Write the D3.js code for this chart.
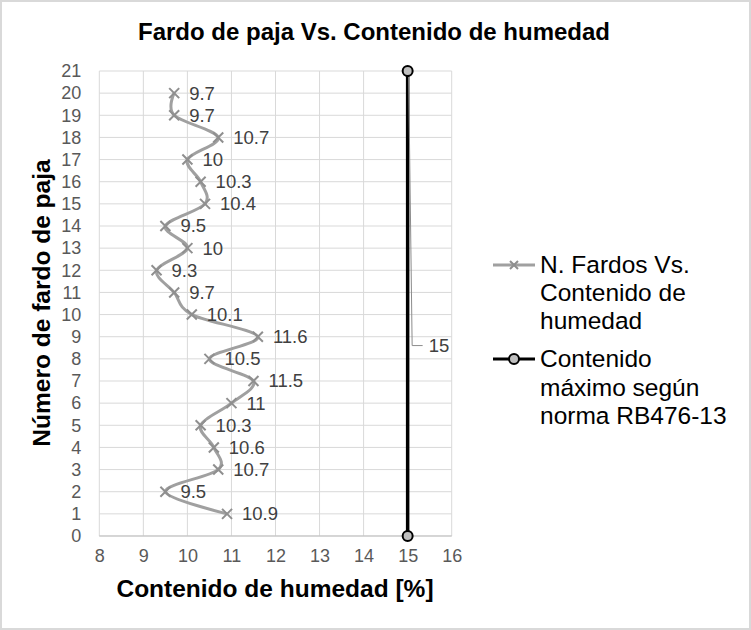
<!DOCTYPE html>
<html><head><meta charset="utf-8">
<script src="https://cdn.jsdelivr.net/npm/d3@7"></script>
<style>
html,body{margin:0;padding:0;background:#fff;}
svg{display:block;font-family:"Liberation Sans",Arial,sans-serif;}
</style></head>
<body>
<svg id="c" width="751" height="630"></svg>
<script>
const fardos = [1,2,3,4,5,6,7,8,9,10,11,12,13,14,15,16,17,18,19,20];
const humedad = [10.9,9.5,10.7,10.6,10.3,11,11.5,10.5,11.6,10.1,9.7,9.3,10,9.5,10.4,10.3,10,10.7,9.7,9.7];
const limiteY = [0,21];
const limiteX = [15,15];
const xTicks = [8,9,10,11,12,13,14,15,16];
const yTicks = d3.range(0,22);
const title = "Fardo de paja Vs. Contenido de humedad";
const xTitle = "Contenido de humedad [%]";
const yTitle = "Número de fardo de paja";
const legend1 = ["N. Fardos Vs.","Contenido de","humedad"];
const legend2 = ["Contenido","máximo según","norma RB476-13"];

const svg = d3.select("#c");
const W=751,H=630;
svg.append("rect").attr("x",1).attr("y",1).attr("width",W-2).attr("height",H-2)
  .attr("fill","#fff").attr("stroke","#d9d9d9").attr("stroke-width",2);

const x = d3.scaleLinear().domain([8,16]).range([99.3,451.7]);
const y = d3.scaleLinear().domain([0,21]).range([536,71]);

// gridlines
const g = svg.append("g");
g.selectAll(".vg").data(xTicks).join("line")
  .attr("x1",d=>x(d)).attr("x2",d=>x(d)).attr("y1",y(0)).attr("y2",y(21))
  .attr("stroke","#d9d9d9").attr("stroke-width",1);
g.selectAll(".hg").data(yTicks).join("line")
  .attr("x1",x(8)).attr("x2",x(16)).attr("y1",d=>y(d)).attr("y2",d=>y(d))
  .attr("stroke","#d9d9d9").attr("stroke-width",1);
g.append("line").attr("x1",x(8)).attr("x2",x(16)).attr("y1",y(0)).attr("y2",y(0))
  .attr("stroke","#bfbfbf").attr("stroke-width",1);

const xAxis = svg.append("g").attr("transform",`translate(0,${y(0)})`)
  .call(d3.axisBottom(x).tickValues(xTicks).tickSize(0).tickPadding(20).tickFormat(d3.format("d")));
xAxis.select(".domain").remove();
xAxis.selectAll("text").attr("font-size",18).attr("fill","#595959")
  .attr("font-family","'Liberation Sans',Arial,sans-serif").attr("dy","0.35em");

const yAxis = svg.append("g").attr("transform",`translate(${x(8)},0)`)
  .call(d3.axisLeft(y).tickValues(yTicks).tickSize(0).tickPadding(18).tickFormat(d3.format("d")));
yAxis.select(".domain").remove();
yAxis.selectAll("text").attr("font-size",18).attr("fill","#595959")
  .attr("font-family","'Liberation Sans',Arial,sans-serif");

// series 1
const pts = fardos.map((f,i)=>({x:humedad[i],y:f}));
const line = d3.line().x(d=>x(d.x)).y(d=>y(d.y)).curve(d3.curveCardinal.tension(0));
svg.append("path").datum(pts).attr("d",line).attr("fill","none")
  .attr("stroke","#a0a0a0").attr("stroke-width",3).attr("stroke-linejoin","round");
const cross = (sel,s)=>sel.append("path")
  .attr("d",`M${-s},${-s}L${s},${s}M${-s},${s}L${s},${-s}`)
  .attr("stroke","#8f8f8f").attr("stroke-width",2).attr("fill","none");
pts.forEach(p=>{
  const gg = svg.append("g").attr("transform",`translate(${x(p.x)},${y(p.y)})`);
  cross(gg,5);
});
svg.selectAll(".dl").data(pts).join("text")
  .attr("x",d=>x(d.x)+15).attr("y",d=>y(d.y)).attr("dy","0.35em")
  .attr("font-size",18.5).attr("fill","#404040")
  .text(d=>d3.format("")(d.x));

// series 2
const lim = limiteY.map((v,i)=>({x:limiteX[i],y:v}));
svg.append("path").datum(lim).attr("d",d3.line().x(d=>x(d.x)).y(d=>y(d.y)))
  .attr("stroke","#000").attr("stroke-width",3.5).attr("fill","none");
const lx = x(15), lyTop = y(21)+6, lyBot = y(8.6);
svg.append("path").attr("d",`M${lx+1},${lyTop}L${lx+4.5},${lyBot}L${lx+15},${lyBot}`)
  .attr("stroke","#8c8c8c").attr("stroke-width",1).attr("fill","none");
svg.append("text").attr("x",lx+21).attr("y",lyBot).attr("dy","0.35em")
  .attr("font-size",18.5).attr("fill","#404040").text("15");
svg.selectAll(".lc").data(lim).join("circle")
  .attr("cx",d=>x(d.x)).attr("cy",d=>y(d.y)).attr("r",5)
  .attr("fill","#bfbfbf").attr("stroke","#000").attr("stroke-width",2);

// titles
svg.append("text").attr("x",374).attr("y",40).attr("text-anchor","middle")
  .attr("font-size",24).attr("font-weight","bold").attr("fill","#000").text(title);
svg.append("text").attr("x",275).attr("y",597).attr("text-anchor","middle")
  .attr("font-size",24.5).attr("font-weight","bold").attr("fill","#000").text(xTitle);
svg.append("text").attr("transform","translate(50,303) rotate(-90)").attr("text-anchor","middle")
  .attr("font-size",24.5).attr("font-weight","bold").attr("fill","#000").text(yTitle);

// legend
const lg = svg.append("g");
lg.append("line").attr("x1",493).attr("x2",535).attr("y1",265).attr("y2",265)
  .attr("stroke","#a0a0a0").attr("stroke-width",3);
cross(lg.append("g").attr("transform","translate(514,265)"),4);
legend1.forEach((t,i)=>lg.append("text").attr("x",540).attr("y",273+i*28)
  .attr("font-size",24.5).attr("fill","#000").text(t));
lg.append("line").attr("x1",493).attr("x2",535).attr("y1",359).attr("y2",359)
  .attr("stroke","#000").attr("stroke-width",3);
lg.append("circle").attr("cx",514).attr("cy",359).attr("r",5)
  .attr("fill","#bfbfbf").attr("stroke","#000").attr("stroke-width",2);
legend2.forEach((t,i)=>lg.append("text").attr("x",540).attr("y",367+i*28.5)
  .attr("font-size",24.5).attr("fill","#000").text(t));
</script>
</body></html>
